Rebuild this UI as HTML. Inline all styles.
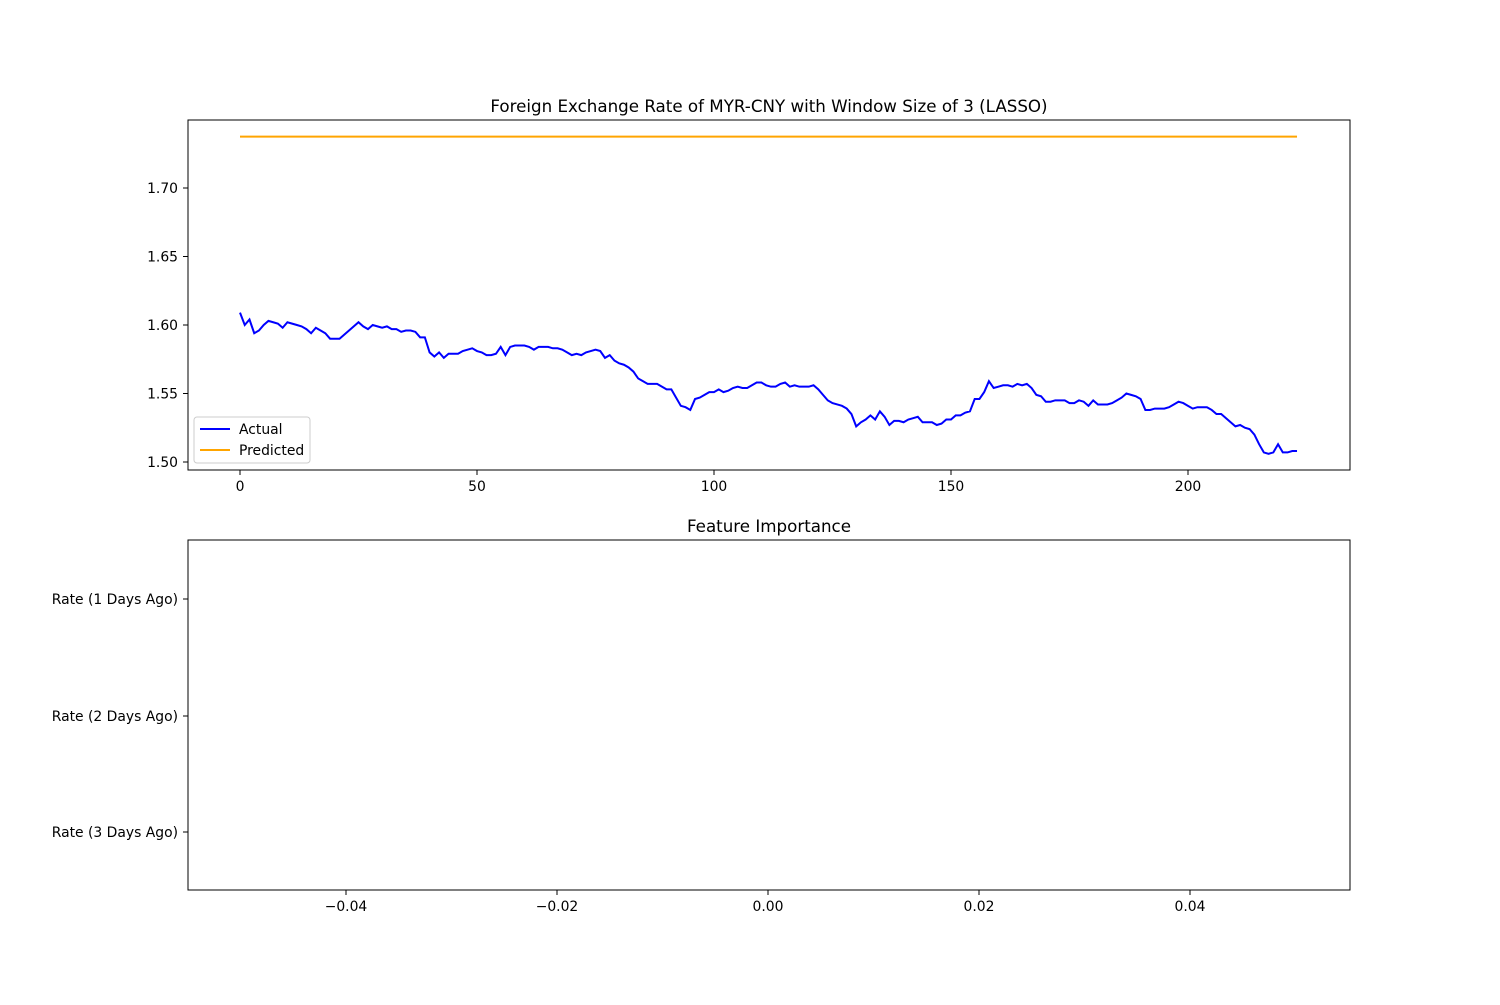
<!DOCTYPE html>
<html><head><meta charset="utf-8"><style>
body{margin:0;background:#fff;}
svg text{font-family:"DejaVu Sans","Liberation Sans",sans-serif;fill:#000;}
</style></head><body>
<svg width="1500" height="1000" xmlns="http://www.w3.org/2000/svg">
<g id="topG"></g>
<g id="botG"></g>
</svg>
<script>
const actual=[1.609,1.600,1.604,1.594,1.596,1.600,1.603,1.602,1.601,1.598,1.602,1.601,1.600,1.599,1.597,1.594,1.598,1.596,1.594,1.590,1.590,1.590,1.593,1.596,1.599,1.602,1.599,1.597,1.600,1.599,1.598,1.599,1.597,1.597,1.595,1.596,1.596,1.595,1.591,1.591,1.580,1.577,1.580,1.576,1.579,1.579,1.579,1.581,1.582,1.583,1.581,1.580,1.578,1.578,1.579,1.584,1.578,1.584,1.585,1.585,1.585,1.584,1.582,1.584,1.584,1.584,1.583,1.583,1.582,1.580,1.578,1.579,1.578,1.580,1.581,1.582,1.581,1.576,1.578,1.574,1.572,1.571,1.569,1.566,1.561,1.559,1.557,1.557,1.557,1.555,1.553,1.553,1.547,1.541,1.540,1.538,1.546,1.547,1.549,1.551,1.551,1.553,1.551,1.552,1.554,1.555,1.554,1.554,1.556,1.558,1.558,1.556,1.555,1.555,1.557,1.558,1.555,1.556,1.555,1.555,1.555,1.556,1.553,1.549,1.545,1.543,1.542,1.541,1.539,1.535,1.526,1.529,1.531,1.534,1.531,1.537,1.533,1.527,1.530,1.530,1.529,1.531,1.532,1.533,1.529,1.529,1.529,1.527,1.528,1.531,1.531,1.534,1.534,1.536,1.537,1.546,1.546,1.551,1.559,1.554,1.555,1.556,1.556,1.555,1.557,1.556,1.557,1.554,1.549,1.548,1.544,1.544,1.545,1.545,1.545,1.543,1.543,1.545,1.544,1.541,1.545,1.542,1.542,1.542,1.543,1.545,1.547,1.550,1.549,1.548,1.546,1.538,1.538,1.539,1.539,1.539,1.540,1.542,1.544,1.543,1.541,1.539,1.540,1.540,1.540,1.538,1.535,1.535,1.532,1.529,1.526,1.527,1.525,1.524,1.520,1.513,1.507,1.506,1.507,1.513,1.507,1.507,1.508,1.508];
const predictedValue=1.7375;
const xTicks=[0,50,100,150,200];
const yTicks=[1.50,1.55,1.60,1.65,1.70];
const features=["Rate (1 Days Ago)","Rate (2 Days Ago)","Rate (3 Days Ago)"];
const importance=[0,0,0];
const bxTicks=[-0.04,-0.02,0.00,0.02,0.04];
const NS="http://www.w3.org/2000/svg";
function mk(p,t,a,txt){const e=document.createElementNS(NS,t);for(const k in a)e.setAttribute(k,a[k]);if(txt!=null)e.textContent=txt;p.appendChild(e);return e;}
const topG=document.getElementById('topG');
const L=188,R=1350,T=120,B=470;
const FS=13.9,TS=16.7;
const sx=v=>240+(v-0)*(1188-240)/200;
const sy=v=>462-(v-1.50)*1370;
let e=mk(topG,'text',{x:769,y:112,'text-anchor':'middle','font-size':TS},'Foreign Exchange Rate of MYR-CNY with Window Size of 3 (LASSO)');


xTicks.forEach(t=>{const x=sx(t);
 mk(topG,'line',{x1:x,x2:x,y1:B,y2:B+5,stroke:'#000'});
 e=mk(topG,'text',{x:x,y:B+21,'text-anchor':'middle','font-size':FS},String(t));
 
 });
yTicks.forEach(t=>{const y=sy(t);
 mk(topG,'line',{x1:L-5,x2:L,y1:y,y2:y,stroke:'#000'});
 e=mk(topG,'text',{x:L-10,y:y+5,'text-anchor':'end','font-size':FS},t.toFixed(2));
 
 });
e=mk(topG,'polyline',{points:actual.map((v,i)=>sx(i)+','+sy(v)).join(' '),fill:'none',stroke:'#0000ff','stroke-width':2});


e=mk(topG,'line',{x1:sx(0),x2:sx(actual.length-1),y1:sy(predictedValue),y2:sy(predictedValue),stroke:'#ffa500','stroke-width':2});


mk(topG,'rect',{x:L,y:T,width:R-L,height:B-T,fill:'none',stroke:'#000'});
const lg=mk(topG,'g',{});


mk(lg,'rect',{x:194,y:417,width:116,height:46,rx:3,fill:'#fff',stroke:'#ccc'});
mk(lg,'line',{x1:200,x2:230,y1:429,y2:429,stroke:'#0000ff','stroke-width':2});
mk(lg,'text',{x:239,y:434,'font-size':FS},'Actual');
mk(lg,'line',{x1:200,x2:230,y1:450,y2:450,stroke:'#ffa500','stroke-width':2});
mk(lg,'text',{x:239,y:455,'font-size':FS},'Predicted');
const botG=document.getElementById('botG');
const bT=540,bB=890;
const bx=v=>768+v*(1190-346)/0.08;
const byPos=[599,716,832];
e=mk(botG,'text',{x:769,y:532,'text-anchor':'middle','font-size':TS},'Feature Importance');


bxTicks.forEach(t=>{const x=bx(t);
 mk(botG,'line',{x1:x,x2:x,y1:bB,y2:bB+5,stroke:'#000'});
 e=mk(botG,'text',{x:x,y:bB+21,'text-anchor':'middle','font-size':FS},(t<0?'\u2212':'')+Math.abs(t).toFixed(2));
 
 });
features.forEach((f,i)=>{const y=byPos[i];
 mk(botG,'line',{x1:L-5,x2:L,y1:y,y2:y,stroke:'#000'});
 e=mk(botG,'text',{x:L-10,y:y+5,'text-anchor':'end','font-size':FS},f);
 
 
 const w=bx(importance[i])-bx(0);
 e=mk(botG,'rect',{x:Math.min(bx(0),bx(0)+w),y:y-47,width:Math.abs(w),height:94,fill:'#1f77b4'});
 
 });
mk(botG,'rect',{x:L,y:bT,width:R-L,height:bB-bT,fill:'none',stroke:'#000'});
</script>
</body></html>
